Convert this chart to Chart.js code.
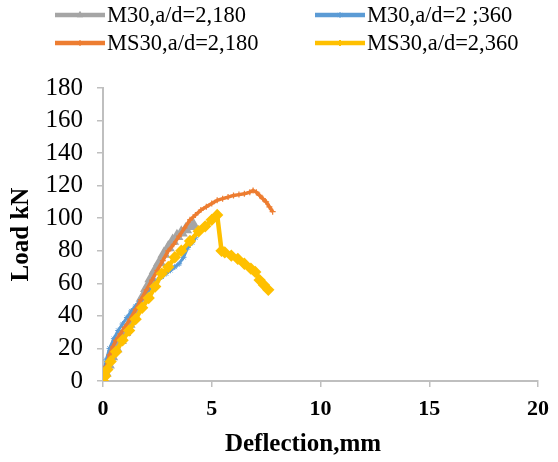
<!DOCTYPE html>
<html><head><meta charset="utf-8">
<script src="https://cdn.jsdelivr.net/npm/chart.js@4/dist/chart.umd.min.js"></script>
<style>html,body{margin:0;padding:0;background:#fff}#wrap{width:558px;height:462px;position:relative}</style>
</head><body><div id="wrap"><canvas id="c" width="558" height="462"></canvas></div>
<script>
const seriesNames = ["M30,a/d=2,180", "M30,a/d=2 ;360", "MS30,a/d=2,180", "MS30,a/d=2,360"];
const xTitle = "Deflection,mm";
const yTitle = "Load kN";
const xTicks = [0, 5, 10, 15, 20];
const yTicks = [0, 20, 40, 60, 80, 100, 120, 140, 160, 180];

const m30_180_x = [0,0.1,0.25,0.4,0.6,0.8,1.0,1.2,1.4,1.6,1.8,2.0,2.2,2.4,2.6,2.8,3.0,3.2,3.4,3.6,3.8,4.0,4.15];
const m30_180_y = [0,5,10,15,20,25,30,35,40,45,51,57,63,68,73,78,82,86,89,91,93,95,96];

const m30_360_x = [0,0.05,0.15,0.3,0.5,0.7,0.9,1.1,1.3,1.5,1.7,1.9,2.1,2.3,2.5,2.7,2.9,3.1,3.3,3.5,3.7,3.9,4.1,4.25];
const m30_360_y = [0,6,13,20,26,31,35,39,43,46,49,52,56,59,62,64,66,68,70,72,76,82,85,88];

const ms30_180_x = [0,0.15,0.3,0.45,0.6,0.8,1.0,1.25,1.5,1.75,2.0,2.25,2.5,2.75,3.0,3.25,3.5,3.75,4.0,4.25,4.5,4.75,5.0,5.25,5.5,5.75,6.0,6.25,6.5,6.75,6.9,7.05,7.2,7.35,7.5,7.65,7.8];
const ms30_180_y = [0,9,16,21,25,29,33,38,44,50,56,62,68,74,80,84,89,94,99,102,105,107,109,111,112,113,114,114.5,115,116,117,116,114,112,110,107,104];

const ms30_360_x = [0,0.1,0.2,0.35,0.6,0.9,1.2,1.5,1.8,2.1,2.4,2.7,3.0,3.3,3.6,4.0,4.4,4.7,5.0,5.25,5.45,5.6,5.9,6.2,6.5,6.8,7.0,7.2,7.4,7.6];
const ms30_360_y = [0,3,7,12,18,25,31,38,45,51,58,66,70,76,80,86,92,95,99,102,80,79,77,75,72,69,67,62,59,56];

const colors = ["#A5A5A5", "#5B9BD5", "#ED7D31", "#FFC000"];
const markers = ["triangle", "star", "cross", "rectRot"];

function pts(xs, ys){ return xs.map((x,i)=>({x:x, y:ys[i]})); }

const datasets = [
  {label: seriesNames[0], data: pts(m30_180_x, m30_180_y), borderColor: colors[0], backgroundColor: colors[0], borderWidth: 4, pointStyle: markers[0], pointRadius: 3.5, order: 4},
  {label: seriesNames[1], data: pts(m30_360_x, m30_360_y), borderColor: colors[1], backgroundColor: colors[1], borderWidth: 3, pointStyle: markers[1], pointRadius: 3, pointBorderWidth: 1, order: 3},
  {label: seriesNames[2], data: pts(ms30_180_x, ms30_180_y), borderColor: colors[2], backgroundColor: colors[2], borderWidth: 3.5, pointStyle: markers[2], pointRadius: 3, pointBorderWidth: 1.2, order: 2},
  {label: seriesNames[3], data: pts(ms30_360_x, ms30_360_y), borderColor: colors[3], backgroundColor: colors[3], borderWidth: 4.5, pointStyle: markers[3], pointRadius: 3, order: 1}
];
datasets.forEach(d=>{ d.showLine = true; d.tension = 0; d.fill = false; d.pointHoverRadius = d.pointRadius; });

const legendPos = [
  {x: 55, y: 15}, {x: 315, y: 15}, {x: 55, y: 43}, {x: 315, y: 43}
];

const legendPlugin = {
  id: 'customLegend',
  afterDraw(chart){
    const ctx = chart.ctx;
    ctx.save();
    chart.data.datasets.forEach((ds, i)=>{
      const p = legendPos[i];
      ctx.strokeStyle = ds.borderColor;
      ctx.lineWidth = 4.5;
      ctx.lineCap = 'butt';
      ctx.beginPath(); ctx.moveTo(p.x, p.y); ctx.lineTo(p.x + 50, p.y); ctx.stroke();
      ctx.fillStyle = ds.backgroundColor;
      ctx.lineWidth = ds.pointBorderWidth || 1;
      Chart.helpers.drawPoint(ctx, {pointStyle: ds.pointStyle, radius: ds.pointRadius, borderWidth: ds.pointBorderWidth || 1, rotation: 0}, p.x + 25, p.y);
      ctx.fillStyle = '#000';
      ctx.font = '22.5px "Liberation Serif", "Times New Roman", serif';
      ctx.textBaseline = 'middle';
      ctx.textAlign = 'left';
      ctx.fillText(ds.label, p.x + 52, p.y + 1);
    });
    ctx.fillStyle = '#000';
    ctx.font = 'bold 25px "Liberation Serif", "Times New Roman", serif';
    ctx.textAlign = 'center';
    ctx.textBaseline = 'middle';
    ctx.fillText(xTitle, 303, 445);
    ctx.restore();
  }
};

const axisColor = '#BFBFBF';
new Chart(document.getElementById('c'), {
  type: 'scatter',
  data: {datasets: datasets},
  options: {
    responsive: false,
    animation: false,
    layout: {padding: {top: 88, right: 13, left: 0, bottom: 0}},
    plugins: {legend: {display: false}, tooltip: {enabled: false}},
    scales: {
      x: {
        type: 'linear', min: 0, max: 20,
        afterBuildTicks: s => { s.ticks = xTicks.map(v=>({value: v})); },
        afterFit: s => { s.height = 81; },
        grid: {drawOnChartArea: false, drawTicks: true, tickLength: 6, color: axisColor, lineWidth: 1.5},
        border: {color: axisColor, width: 2},
        ticks: {autoSkip: false, color: '#000', font: {family: '"Liberation Serif", serif', size: 22, weight: 'bold'}, padding: 9, maxRotation: 0},
        title: {display: false}
      },
      y: {
        type: 'linear', min: 0, max: 180,
        afterBuildTicks: s => { s.ticks = yTicks.map(v=>({value: v})); },
        afterFit: s => { s.width = 103; },
        grid: {drawOnChartArea: false, drawTicks: true, tickLength: 6, color: axisColor, lineWidth: 1.5},
        border: {color: axisColor, width: 2},
        ticks: {autoSkip: false, color: '#000', font: {family: '"Liberation Serif", serif', size: 25}, padding: 14},
        title: {display: true, text: yTitle, color: '#000', font: {family: '"Liberation Serif", serif', size: 25, weight: 'bold'}, padding: {top: 7, bottom: 0}}
      }
    }
  },
  plugins: [legendPlugin]
});
</script>
</body></html>
